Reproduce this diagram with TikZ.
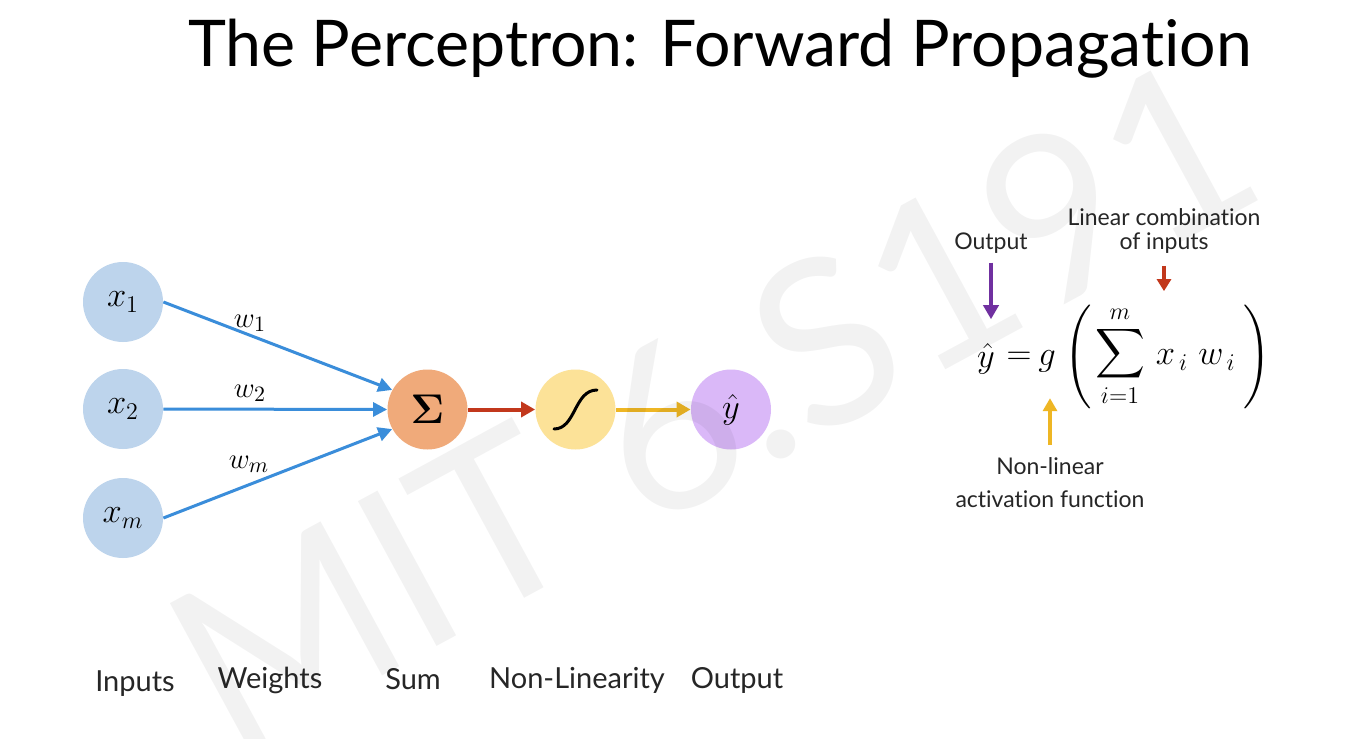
\documentclass[tikz,border=0pt]{standalone}
\usepackage{amsmath}
\usepackage{fontspec}
\setmainfont{Lato}[Ligatures=NoCommon]
\usetikzlibrary{arrows.meta}

\definecolor{inblue}{RGB}{189,212,236}
\definecolor{sumorange}{RGB}{240,170,122}
\definecolor{actyellow}{RGB}{252,226,152}
\definecolor{outpurple}{RGB}{218,184,248}
\definecolor{wblue}{RGB}{58,141,218}
\definecolor{sred}{RGB}{194,56,28}
\definecolor{ayellow}{RGB}{238,182,36}
\definecolor{opurple}{RGB}{112,48,160}

\begin{document}
\begin{tikzpicture}[x=0.5pt,y=-0.5pt,
  unit/.style={circle,minimum size=40pt,inner sep=0pt,draw=none},
  conn/.style={line width=1.5pt,-{Triangle[length=7pt,width=7pt]}},
  caption/.style={font=\fontsize{14.5}{17}\selectfont,anchor=base,text=black!85},
  note/.style={font=\fontsize{11.5}{14}\selectfont,inner sep=0pt,text=black!85},
  eqpart/.style={font=\fontsize{18}{22}\selectfont,inner sep=0pt},
  nlabel/.style={font=\fontsize{17}{20}\selectfont},
  wlabel/.style={font=\fontsize{15}{18}\selectfont,inner sep=0pt},
]
\useasboundingbox (0,0) rectangle (1351,739);
\fill[white] (0,0) rectangle (1351,739);

% title
\node[anchor=base,font=\fontsize{32.2}{38}\selectfont] (title) at (720,67)
  {The Perceptron: Forward Propagation};

% inputs, sum, activation, output
\node[unit,fill=inblue,nlabel] (x1) at (123,302) {$x_1$};
\node[unit,fill=inblue,nlabel] (x2) at (123,409) {$x_2$};
\node[unit,fill=inblue,nlabel] (xm) at (123,518) {$x_m$};
\node[unit,fill=sumorange,font=\fontsize{21}{24}\selectfont] (sum) at (427.5,409.5) {$\boldsymbol{\Sigma}$};
\node[unit,fill=actyellow] (act) at (575.5,409.5) {};
\node[unit,fill=outpurple,nlabel] (out) at (731,409.5) {$\hat{y}$};

% sigmoid glyph
\draw[line width=1.5pt,line cap=round] (554,429) .. controls (576,429) and (574,390) .. (597,390);

% weighted connections
\draw[conn,wblue] (x1.east) -- (sum.151);
\draw[conn,wblue] (x2.east) -- (sum.west);
\draw[conn,wblue] (xm.east) -- (sum.209);
\node[wlabel] (w1) at (250,323) {$w_1$};
\node[wlabel] (w2) at (250,393) {$w_2$};
\node[wlabel] (wm) at (249,464) {$w_m$};

\draw[line width=2pt,sred,-{Triangle[length=7pt,width=7.5pt]}] (sum.east) -- (act.west);
\draw[line width=2pt,ayellow,-{Triangle[length=7pt,width=7.5pt]}] (act.east) -- (out.west);

% captions
\node[caption] (cIn) at (135,691) {Inputs};
\node[caption] (cW) at (270,688) {Weights};
\node[caption] (cS) at (413,689) {Sum};
\node[caption] (cNL) at (577,688) {Non-Linearity};
\node[caption] (cOut) at (737,688) {Output};

% formula
\node[eqpart] (fy) at (986,359) {$\hat{y}$};
\node[eqpart] (feq) at (1019,358) {$=$};
\node[eqpart] (fg) at (1047,361) {$g$};
\node[eqpart] (flp) at (1079,357) {$\left(\vrule height 20pt depth 20pt width 0pt\right.$};
\node[eqpart] (fsum) at (1120,356) {$\displaystyle\sum_{i=1}^{m}$};
\node[eqpart] (fx) at (1172,360) {$x_{\,i}$};
\node[eqpart] (fw) at (1217,360) {$w_{\,i}$};
\node[eqpart] (frp) at (1256,357) {$\left.\vrule height 20pt depth 20pt width 0pt\right)$};

% formula annotations
\node[note] (nOut) at (991,243) {Output};
\node[note] (nLin1) at (1164,217) {Linear combination};
\node[note] (nLin2) at (1164,243) {of inputs};
\node[note] (nAct1) at (1050,466) {Non-linear};
\node[note] (nAct2) at (1050,499) {activation function};

\draw[line width=1.8pt,opurple,-{Triangle[length=7pt,width=7.5pt]},shorten <=4.5pt,shorten >=12pt]
  (nOut.south) -- (nOut.south |- fy.north);
\draw[line width=1.8pt,sred,-{Triangle[length=6pt,width=7pt]},shorten <=6pt,shorten >=7pt]
  (nLin2.south) -- (nLin2.south |- fsum.north);
\draw[line width=1.8pt,ayellow,-{Triangle[length=6.5pt,width=7pt]},shorten <=6pt,shorten >=13pt]
  (nAct1.north) -- (nAct1.north |- fg.south);

% course watermark
\node[rotate=28.5,text=black,text opacity=0.05,font=\fontsize{115}{115}\selectfont] (mark) at (712,403) {MIT 6.S191};
\end{tikzpicture}
\end{document}
